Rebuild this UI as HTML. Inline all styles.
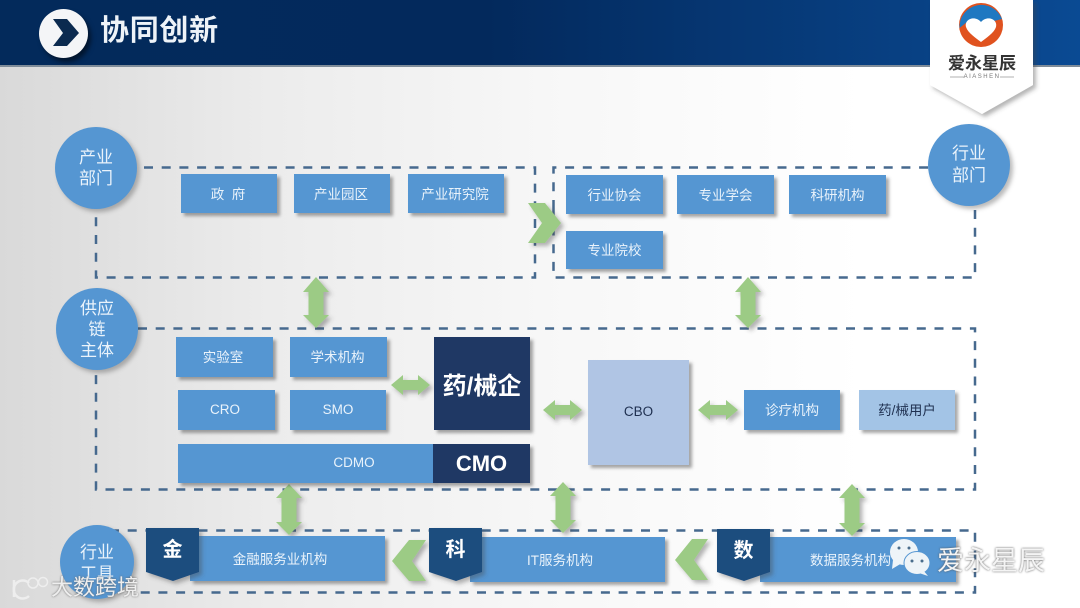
<!DOCTYPE html>
<html lang="zh"><head><meta charset="utf-8"><style>
html,body{margin:0;padding:0}
#p{position:relative;width:1080px;height:608px;overflow:hidden;background:linear-gradient(90deg,#d9d9d9 0,#ececec 25%,#f7f7f7 50%,#fff 80%);font-family:"Liberation Sans","Noto Sans CJK SC",sans-serif}
.a{position:absolute}
.b{position:absolute;box-sizing:border-box;padding-bottom:2px;display:flex;align-items:center;justify-content:center;background:#5596d2;color:#eaf3fb;font-size:13.5px;box-shadow:3px 3px 3px rgba(60,60,60,.45);white-space:nowrap}
.d{background:#1f3864;color:#fff;font-weight:bold;font-size:24px;padding-bottom:0}
.c{position:absolute;border-radius:50%;background:#5596d2;color:#eaf3fb;font-size:17px;line-height:21px;display:flex;align-items:center;justify-content:center;text-align:center;box-shadow:3px 3px 4px rgba(60,60,60,.35)}
svg{position:absolute;left:0;top:0}
</style></head><body><div id="p">
<div class="a" style="left:0;top:0;width:1080px;height:65px;background:linear-gradient(90deg,#032a5b 0,#03295c 45%,#0a4a93 100%)"></div>
<div class="a" style="left:0;top:65px;width:1080px;height:2px;background:#7f8c99"></div>
<div class="a" style="left:39px;top:9px;width:49px;height:49px;border-radius:50%;background:#f4f5f7;box-shadow:3px 4px 5px rgba(0,0,0,.5)"></div>
<div class="a" style="left:100px;top:11px;font-size:29px;line-height:40px;font-weight:bold;color:#eef3f8;letter-spacing:.7px;white-space:nowrap">协同创新</div>

<svg width="1080" height="608" viewBox="0 0 1080 608">
<defs><filter id="s" x="-20%" y="-20%" width="150%" height="150%"><feDropShadow dx="3" dy="3" stdDeviation="2" flood-color="#444" flood-opacity=".4"/></filter></defs>
<polygon points="53,19 67,19 79,33 67,46 53,46 63,33" fill="#0b2a4f"/>
<polygon points="930,0 1033,0 1033,85 982,114 930,85" fill="#fff" filter="url(#s)"/>
<circle cx="981" cy="25" r="22" fill="#e0521f"/>
<path d="M959.500 28A22 22 0 0 1 1002 19L990 22L981 30L967 22Z" fill="#1f78c1"/>
<path d="M981 22C987 15 998 19 996 27C994 33 986 38 981 42C976 38 968 33 966 27C964 19 975 15 981 22Z" fill="#fff"/>
<g stroke="#999" stroke-width=".7"><path d="M950 77H964M1000 77H1014"/></g>
<g fill="none" stroke="#46698e" stroke-width="2.5" stroke-dasharray="9 8.7">
<path d="M144 167.500H535V277.500H96V208"/>
<path d="M553.500 209V167.500H930M975 210V277.500H553.500V209"/>
<path d="M138 328.500H975V489.500H96V370"/>
<path d="M110 530.500H975V592.500H135"/>
</g>
<g fill="#9ccb85" filter="url(#s)">
<path d="M316 277L329 292H323.500V315H329L316 328L303 315H308.500V292H303Z"/>
<path d="M748 277L761 292H755.500V315H761L748 328L735 315H740.500V292H735Z"/>
<path d="M289 484L302 498H296.500V522H302L289 535L276 522H281.500V498H276Z"/>
<path d="M563 482L576 496H570.500V520H576L563 533L550 520H555.500V496H550Z"/>
<path d="M852 484L865 498H859.500V523H865L852 536L839 523H844.500V498H839Z"/>
<path d="M391 385L403 375V380H418V375L430 385L418 395V390H403V395Z"/>
<path d="M543 410L555 400V405H570V400L582 410L570 420V415H555V420Z"/>
<path d="M698 410L710 400V405H726V400L738 410L726 420V415H710V420Z"/>
<polygon points="528,203 545,203 561,223 545,243 528,243 542,223"/>
<polygon points="426,540 409,540 392,561 409,581 426,581 412,561"/>
<polygon points="708,539 692,539 675,560 692,580 708,580 694,560"/>
</g>
</svg>

<div class="a" style="left:948px;top:54px;width:68px;text-align:center;font-size:17px;line-height:20px;font-weight:bold;color:#333;white-space:nowrap">爱永星辰</div>
<div class="a" style="left:948px;top:73px;width:68px;text-align:center;font-size:6px;line-height:8px;color:#777;letter-spacing:1.500px;white-space:nowrap">AIASHEN</div>

<div class="c" style="left:55px;top:127px;width:82px;height:82px">产业<br>部门</div>
<div class="c" style="left:928px;top:124px;width:82px;height:82px;line-height:22px">行业<br>部门</div>
<div class="c" style="left:56px;top:288px;width:82px;height:82px">供应<br>链<br>主体</div>
<div class="c" style="left:60px;top:525px;width:74px;height:74px;padding-top:0"><span style="position:relative;top:1px">行业<br>工具</span></div>

<div class="b" style="left:181px;top:174px;width:96px;height:39px;padding-right:2px">政&nbsp;&nbsp;府</div>
<div class="b" style="left:294px;top:174px;width:96px;height:39px;padding-right:2px">产业园区</div>
<div class="b" style="left:408px;top:174px;width:96px;height:39px;padding-right:2px">产业研究院</div>
<div class="b" style="left:566px;top:175px;width:97px;height:39px">行业协会</div>
<div class="b" style="left:677px;top:175px;width:97px;height:39px">专业学会</div>
<div class="b" style="left:789px;top:175px;width:97px;height:39px">科研机构</div>
<div class="b" style="left:566px;top:231px;width:97px;height:38px">专业院校</div>
<div class="b" style="left:176px;top:337px;width:97px;height:40px;padding-right:3px">实验室</div>
<div class="b" style="left:290px;top:337px;width:97px;height:40px;padding-right:2px">学术机构</div>
<div class="b" style="left:178px;top:390px;width:97px;height:40px;padding-right:3px">CRO</div>
<div class="b" style="left:290px;top:390px;width:96px;height:40px">SMO</div>
<div class="b" style="left:178px;top:444px;width:256px;height:39px;padding-left:96px">CDMO</div>
<div class="b d" style="left:434px;top:337px;width:96px;height:93px">药/械企</div>
<div class="b d" style="left:433px;top:444px;width:97px;height:39px;font-size:22px">CMO</div>
<div class="b" style="left:588px;top:360px;width:101px;height:105px;background:#b0c5e4;color:#1f3050">CBO</div>
<div class="b" style="left:744px;top:390px;width:96px;height:40px">诊疗机构</div>
<div class="b" style="left:859px;top:390px;width:96px;height:40px;background:#a3c4e6;color:#1f3050">药/械用户</div>
<div class="b" style="left:190px;top:536px;width:195px;height:45px;padding-right:15px">金融服务业机构</div>
<div class="b" style="left:470px;top:537px;width:195px;height:45px;padding-right:15px">IT服务机构</div>
<div class="b" style="left:760px;top:537px;width:196px;height:45px;padding-right:15px">数据服务机构</div>

<svg width="1080" height="608" viewBox="0 0 1080 608">
<g fill="#1f4e7e" filter="url(#s)">
<polygon points="146,528 199,528 199,572 173,581 146,572"/>
<polygon points="429,528 482,528 482,572 456,581 429,572"/>
<polygon points="717,529 770,529 770,572 744,581 717,572"/>
</g>
<g fill="#eef4f8">
<ellipse cx="904" cy="552" rx="14" ry="13"/><polygon points="893,560 892,569 902,563"/>
<ellipse cx="917" cy="563" rx="13" ry="11.500" stroke="#5596d2"/><polygon points="923,570 928,576 916,572"/>
</g>
<g fill="#4a6d8c"><circle cx="899" cy="548" r="1.500"/><circle cx="909" cy="548" r="1.500"/><circle cx="912" cy="561" r="1.500"/><circle cx="922" cy="561" r="1.500"/></g>
<g fill="none" stroke="#eee" stroke-width="2.500"><path d="M14 580V597"/><path d="M29 583A9 9 0 1 0 29 596"/><circle cx="33" cy="583" r="5" stroke-width="1.500"/><circle cx="43" cy="582" r="4.500" stroke-width="1.500"/></g>
</svg>

<div class="a" style="left:146px;top:537px;width:53px;text-align:center;font-size:20px;line-height:26px;font-weight:bold;color:#fff">金</div>
<div class="a" style="left:429px;top:537px;width:53px;text-align:center;font-size:20px;line-height:26px;font-weight:bold;color:#fff">科</div>
<div class="a" style="left:717px;top:538px;width:53px;text-align:center;font-size:20px;line-height:26px;font-weight:bold;color:#fff">数</div>
<div class="a" style="left:937px;top:545px;font-size:27px;line-height:32px;color:#f4f4f4;white-space:nowrap;text-shadow:0 0 2px #555">爱永星辰</div>
<div class="a" style="left:51px;top:574px;font-size:22px;line-height:28px;color:#eee;white-space:nowrap;text-shadow:0 0 2px #666">大数跨境</div>
</div></body></html>
